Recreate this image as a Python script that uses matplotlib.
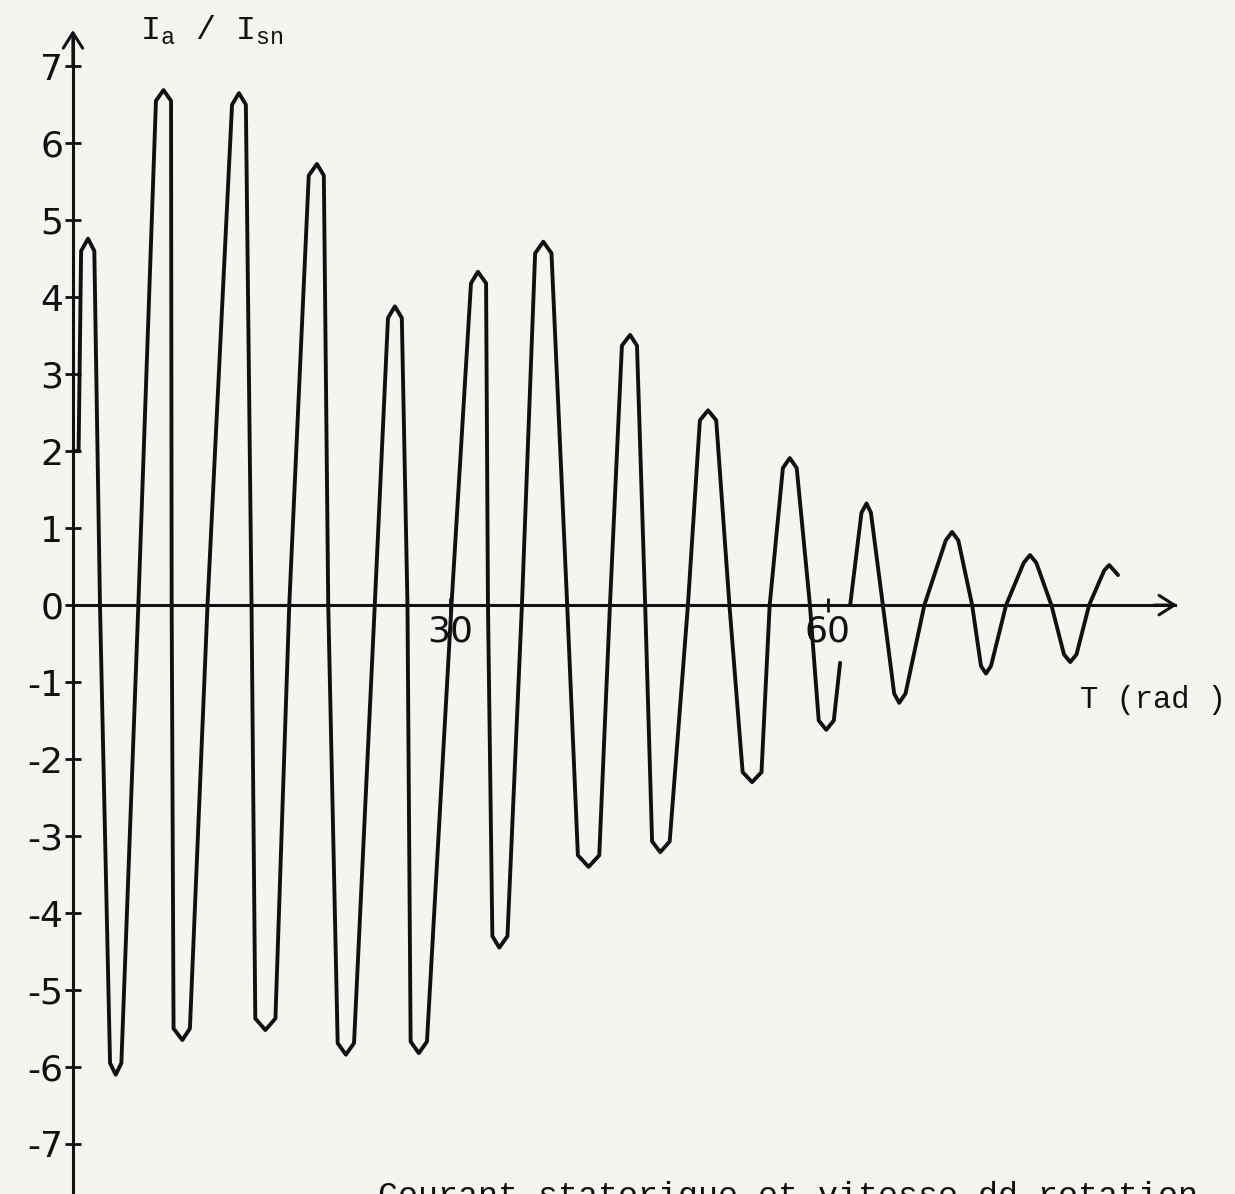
import numpy as np
import matplotlib

matplotlib.use("Agg")
import matplotlib.pyplot as plt

plt.rcParams["mathtext.fontset"] = "custom"
plt.rcParams["mathtext.rm"] = "Liberation Mono"

paper = "#f4f4f1"
ink = "#111111"

# stator current vs angle:
# zero crossings, the two sides of each rounded tip and the tip itself
# (NaN where the pen is lifted near the "60" label)
t_rad = [0, 0.45, 0.65, 1.2, 1.7, 2.15,
         2.95, 3.4, 3.85, 5.2,
         6.6, 7.2, 7.8, 7.85,
         8.0, 8.7, 9.3, 10.7,
         12.65, 13.2, 13.75, 14.2,
         14.5, 15.3, 16.1, 17.2,
         18.75, 19.4, 19.95, 20.3,
         21.05, 21.7, 22.35, 24.0,
         25.05, 25.6, 26.15, 26.6,
         26.85, 27.5, 28.15, 30.1,
         31.65, 32.2, 32.85, 33.0,
         33.35, 33.9, 34.55, 35.7,
         36.75, 37.4, 38.05, 39.3,
         40.15, 41.0, 41.85, 42.7,
         43.65, 44.3, 44.85, 45.5,
         46.05, 46.7, 47.45, 48.9,
         49.85, 50.5, 51.15, 52.2,
         53.25, 54.0, 54.75, 55.4,
         56.45, 57.0, 57.55, 58.6,
         59.3, 59.9, 60.5, 61.0, np.nan,
         61.8, 62.7, 63.1, 63.45, 64.4,
         65.3, 65.7, 66.2, 67.7,
         69.4, 69.9, 70.4, 71.5,
         72.2, 72.6, 73.0, 74.2,
         75.6, 76.1, 76.6, 77.8,
         78.8, 79.3, 79.8, 80.8,
         82.0, 82.4, 83.1]
i_ratio = [2.0, 2.0, 4.6, 4.76, 4.6, 0,
           -5.95, -6.1, -5.95, 0,
           6.55, 6.69, 6.55, 0,
           -5.5, -5.65, -5.5, 0,
           6.5, 6.65, 6.5, 0,
           -5.37, -5.52, -5.37, 0,
           5.58, 5.73, 5.58, 0,
           -5.69, -5.84, -5.69, 0,
           3.73, 3.88, 3.73, 0,
           -5.67, -5.82, -5.67, 0,
           4.18, 4.33, 4.18, 0,
           -4.3, -4.45, -4.3, 0,
           4.57, 4.72, 4.57, 0,
           -3.25, -3.40, -3.25, 0,
           3.37, 3.51, 3.37, 0,
           -3.07, -3.21, -3.07, 0,
           2.4, 2.53, 2.4, 0,
           -2.17, -2.30, -2.17, 0,
           1.78, 1.91, 1.78, 0,
           -1.5, -1.62, -1.5, -0.75, np.nan,
           0, 1.2, 1.32, 1.2, 0,
           -1.15, -1.27, -1.15, 0,
           0.84, 0.95, 0.84, 0,
           -0.79, -0.89, -0.79, 0,
           0.55, 0.65, 0.55, 0,
           -0.64, -0.74, -0.64, 0,
           0.45, 0.52, 0.39]

y_ticks = list(range(-7, 8))
y_tick_labels = [str(v) for v in y_ticks]
x_ticks = [30, 60]
x_tick_labels = ["30", "60"]

fig = plt.figure(figsize=(12.35, 11.94), dpi=100, facecolor=paper)
ax = fig.add_axes([0, 0, 1, 1], facecolor=paper)
ax.set_xlim(-5.8, 92.4)
ax.set_ylim(-7.65, 7.86)

ax.plot(t_rad, i_ratio, color=ink, lw=2.8,
        solid_joinstyle="round", solid_capstyle="round")

# axes drawn through the origin, with open arrow heads
for side in ["top", "right"]:
    ax.spines[side].set_visible(False)
ax.spines["left"].set_position(("data", 0))
ax.spines["bottom"].set_position(("data", 0))
ax.spines["left"].set_bounds(-7.7, 7.4)
ax.spines["bottom"].set_bounds(0, 87.6)
for side in ["left", "bottom"]:
    ax.spines[side].set_color(ink)
    ax.spines[side].set_linewidth(2.2)

arrow = dict(arrowstyle="->,head_length=0.55,head_width=0.35", lw=2.2,
             color=ink, shrinkA=0, shrinkB=0, mutation_scale=20)
ax.annotate("", xy=(0, 7.47), xytext=(0, 7.0), arrowprops=arrow)
ax.annotate("", xy=(87.8, 0), xytext=(86.0, 0), arrowprops=arrow)

ax.set_yticks(y_ticks)
ax.set_yticklabels(y_tick_labels)
ax.set_xticks(x_ticks)
ax.set_xticklabels(x_tick_labels)
ax.tick_params(axis="y", direction="inout", length=12, width=2, color=ink,
               labelsize=26, pad=1, labelcolor=ink)
ax.tick_params(axis="x", direction="inout", length=10, width=2, color=ink,
               labelsize=26, pad=2, labelcolor=ink)

ax.text(5.3, 7.34, r"$\mathrm{I_a}$ / $\mathrm{I_{sn}}$", family="Liberation Mono",
        fontsize=24, color=ink, va="baseline")
ax.text(80.1, -1.34, "T (rad )", family="Liberation Mono", fontsize=22,
        color=ink, va="baseline")
# caption runs off the bottom edge of the scanned page
fig.text(378 / 1235, -0.0092, "Courant statorique et vitesse dd rotation",
         family="Liberation Mono", fontsize=24, color=ink, va="baseline")

fig.savefig("out.png", dpi=100, facecolor=paper)
plt.close(fig)
